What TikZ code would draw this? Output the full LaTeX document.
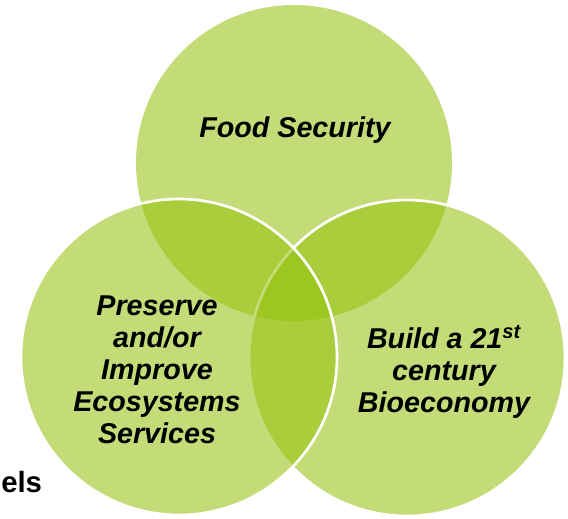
\documentclass[tikz,border=0pt]{standalone}
\usepackage{fontspec}
\setmainfont{Liberation Sans}
\usetikzlibrary{positioning}
\definecolor{cleaf}{RGB}{148,192,10}

\begin{document}
\begin{tikzpicture}[
    x=0.75pt, y=-0.75pt,
    ring/.style={circle, minimum size=237pt, inner sep=0pt, fill=cleaf,
                 fill opacity=0.55, draw=white, line width=2pt},
    goal/.style={font=\fontsize{21.5}{24}\selectfont\bfseries\itshape,
                 align=center, inner sep=0pt}
  ]
  \useasboundingbox (0,0) rectangle (568,518);

  % the three overlapping goals
  \node[ring, draw=none] (food) at (294,163) {};
  \node[ring] (bio) at (407,358) {};
  \node[ring] (eco) at (179,357) {};

  \node[goal] (foodtxt) at (295,130) {Food Security};
  \node[goal] (ecotxt) at (157,370) {Preserve\\and/or\\Improve\\Ecosystems\\Services};
  \node[goal] (biotxt) at (444,372) {Build a 21\textsuperscript{st}\\century\\Bioeconomy};

  \node[font=\fontsize{22}{26}\selectfont\bfseries, anchor=base west, inner sep=0pt]
    (lvl) at (1,492) {els};
\end{tikzpicture}
\end{document}
